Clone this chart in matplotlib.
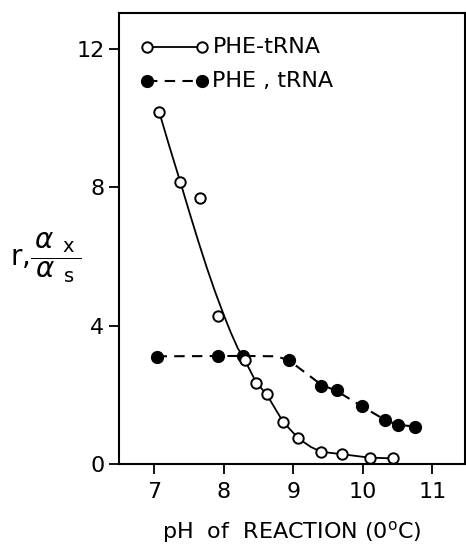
import matplotlib.pyplot as plt
import numpy as np

# open circles: PHE-tRNA
ph_open = [7.07, 7.37, 7.65, 7.92, 8.30, 8.46, 8.62, 8.85, 9.07, 9.40, 9.70, 10.10, 10.43]
r_open = [10.17, 8.17, 7.69, 4.27, 3.01, 2.34, 2.03, 1.23, 0.75, 0.35, 0.29, 0.17, 0.17]

# hand drawn fitted curve through the open circles
curve_x = [7.07, 7.22, 7.37, 7.50, 7.63, 7.75, 7.87, 8.00, 8.10, 8.20, 8.30, 8.46, 8.62, 8.85, 9.07, 9.25, 9.40, 9.70, 10.10, 10.43]
curve_y = [10.17, 9.15, 8.17, 7.30, 6.45, 5.70, 5.00, 4.30, 3.80, 3.35, 3.01, 2.38, 2.00, 1.23, 0.75, 0.50, 0.36, 0.29, 0.19, 0.17]

# filled circles: PHE, tRNA
ph_fill = [7.03, 7.92, 8.28, 8.93, 9.40, 9.62, 9.98, 10.32, 10.50, 10.75]
r_fill = [3.09, 3.13, 3.12, 3.01, 2.26, 2.15, 1.68, 1.28, 1.14, 1.09]

dash_x = [7.03, 8.28, 8.75, 8.93, 9.40, 9.62, 9.98, 10.32, 10.50, 10.75]
dash_y = [3.12, 3.13, 3.12, 3.01, 2.30, 2.12, 1.68, 1.28, 1.14, 1.09]

xticks = [7, 8, 9, 10, 11]
yticks = [0, 4, 8, 12]

plt.rcParams['font.family'] = ['DejaVu Sans']
fig = plt.figure(figsize=(4.66, 5.54), dpi=100)
ax = fig.add_axes([0.2554, 0.162, 0.7426, 0.8145])

ax.plot(curve_x, curve_y, color='black', lw=1.3, zorder=2)
ax.plot(dash_x, dash_y, color='black', lw=1.5, ls=(0, (5, 3.5)), zorder=2)
ax.plot(ph_fill, r_fill, 'o', color='black', ms=8.5, zorder=3)
ax.plot(ph_open, r_open, 'o', mfc='white', mec='black', mew=1.4, ms=7.5, zorder=4)

# legend drawn by hand in axes coords
ax.plot([0.08, 0.24], [0.925, 0.925], transform=ax.transAxes, color='black', lw=1.3)
ax.plot([0.08, 0.24], [0.925, 0.925], 'o', transform=ax.transAxes, mfc='white', mec='black', mew=1.4, ms=7.5)
ax.text(0.27, 0.925, 'PHE-tRNA', transform=ax.transAxes, fontsize=16, va='center')
ax.plot([0.08, 0.24], [0.85, 0.85], transform=ax.transAxes, color='black', lw=1.5, ls=(0, (5, 3.5)))
ax.plot([0.08, 0.24], [0.85, 0.85], 'o', transform=ax.transAxes, color='black', ms=8.5)
ax.text(0.27, 0.85, 'PHE , tRNA', transform=ax.transAxes, fontsize=16, va='center')

ax.set_xlim(6.49, 11.47)
ax.set_ylim(0, 13.04)
ax.set_xticks(xticks)
ax.set_yticks(yticks)
ax.tick_params(axis='both', direction='out', length=7, width=1.3, labelsize=16)
ax.tick_params(axis='x', pad=6)
for s in ax.spines.values():
    s.set_linewidth(1.5)

ax.set_xlabel('pH  of  REACTION (0$^{\\rm o}$C)', fontsize=16, labelpad=12)
fig.text(0.022, 0.535, r'r,$\dfrac{\,\alpha\ _\mathrm{x}\,}{\,\alpha\ _\mathrm{s}\,}$', fontsize=20, va='center', ha='left')

fig.savefig('out.png', dpi=100)
